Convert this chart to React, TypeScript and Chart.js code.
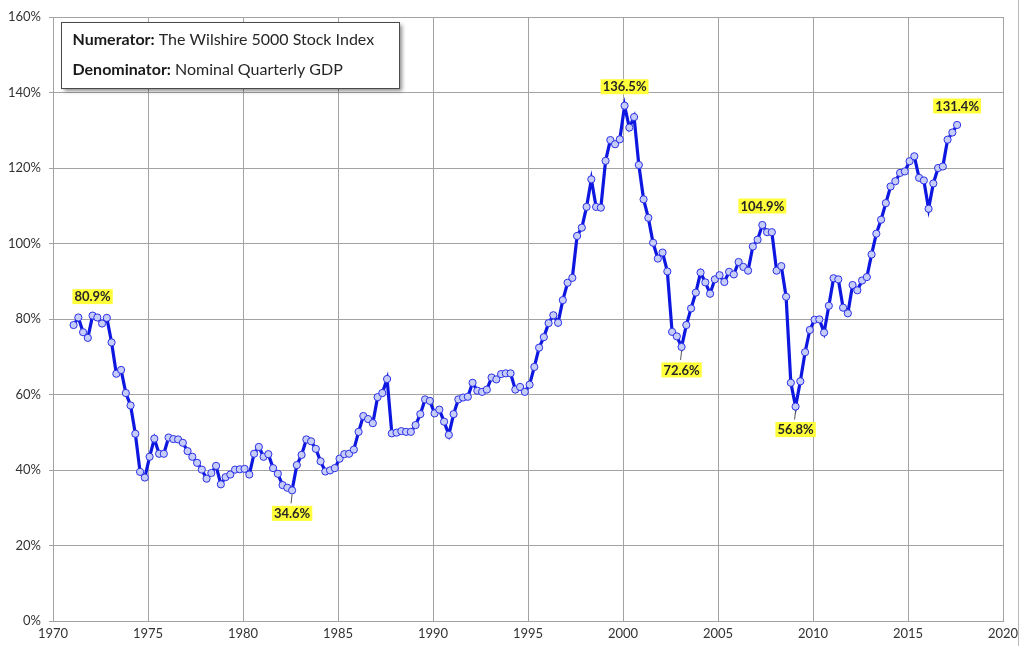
import React, { useEffect, useRef } from 'react';
import { Chart, registerables } from 'chart.js';

Chart.register(...registerables);

// Quarterly series: Wilshire 5000 / Nominal GDP (%), 1971 Q1 .. 2017 Q3
const START_YEAR = 1971;
const QUARTER_OFFSET = 1 / 12;
const ratioValues: number[] = [
  78.4, 80.4, 76.5, 75.0, 80.9, 80.4, 78.8, 80.3, 73.8, 65.5,
  66.5, 60.4, 57.1, 49.6, 39.5, 38.0, 43.5, 48.3, 44.3, 44.3,
  48.6, 48.2, 48.1, 47.2, 45.0, 43.5, 41.9, 40.1, 37.7, 39.2,
  41.1, 36.2, 38.1, 38.8, 40.1, 40.2, 40.3, 38.8, 44.3, 46.1,
  43.5, 44.2, 40.5, 39.0, 36.0, 35.3, 34.6, 41.3, 44.0, 48.1,
  47.6, 45.6, 42.3, 39.6, 39.9, 40.5, 43.0, 44.2, 44.3, 45.4,
  50.1, 54.3, 53.5, 52.4, 59.3, 60.4, 64.1, 49.7, 49.9, 50.3,
  50.1, 50.1, 51.9, 54.8, 58.7, 58.3, 55.0, 56.0, 52.8, 49.3,
  54.8, 58.7, 59.2, 59.4, 63.1, 61.0, 60.7, 61.3, 64.5, 64.0,
  65.4, 65.6, 65.6, 61.3, 62.0, 60.7, 62.6, 67.3, 72.4, 75.2,
  78.9, 81.0, 79.0, 85.0, 89.6, 90.9, 102.0, 104.2, 109.7, 117.0,
  109.7, 109.5, 121.9, 127.4, 126.3, 127.6, 136.5, 130.7, 133.5, 120.8,
  111.7, 106.8, 100.2, 96.0, 97.6, 92.6, 76.6, 75.4, 72.6, 78.4,
  82.8, 87.0, 92.3, 89.7, 86.7, 90.5, 91.6, 89.8, 92.5, 91.8,
  95.1, 93.8, 92.8, 99.2, 101.0, 104.9, 103.0, 103.0, 92.8, 94.0,
  85.9, 63.1, 56.8, 63.5, 71.2, 77.1, 79.8, 79.9, 76.4, 83.5,
  90.8, 90.5, 83.0, 81.5, 89.0, 87.6, 90.2, 91.1, 97.1, 102.6,
  106.3, 110.7, 115.1, 116.5, 118.7, 119.1, 121.8, 123.1, 117.4, 116.7,
  109.2, 115.9, 120.0, 120.4, 127.5, 129.4, 131.4,
];

const X_MIN = 1970;
const X_MAX = 2020;
const X_STEP = 5;
const Y_MIN = 0;
const Y_MAX = 160;
const Y_STEP = 20;

// Highlighted extremes (index into ratioValues, label placement)
const highlightIndices = [4, 46, 116, 128, 145, 152, 186];
const highlightPlacement = ['above', 'below', 'above', 'below', 'above', 'below', 'above'];

const noteLines = [
  { bold: 'Numerator:', rest: ' The Wilshire 5000 Stock Index' },
  { bold: 'Denominator:', rest: ' Nominal Quarterly GDP' },
];

const FONT = 'Lato, "Open Sans", "DejaVu Sans", sans-serif';

const annotationPlugin = {
  id: 'extremeLabels',
  afterDatasetsDraw(chart: any) {
    const ctx = chart.ctx;
    const meta = chart.getDatasetMeta(0);
    ctx.save();
    highlightIndices.forEach((idx, i) => {
      const pt = meta.data[idx];
      if (!pt) return;
      const x = pt.x;
      const y = pt.y;
      const text = ratioValues[idx].toFixed(1) + '%';
      ctx.font = 'bold 13px ' + FONT;
      const w = ctx.measureText(text).width;
      const below = highlightPlacement[i] === 'below';
      const cy = below ? y + 23 : y - 19;
      if (below) {
        ctx.strokeStyle = '#555';
        ctx.lineWidth = 1;
        ctx.beginPath();
        ctx.moveTo(x, y + 4);
        ctx.lineTo(x - 1, y + 13);
        ctx.stroke();
      }
      ctx.fillStyle = '#ffff3a';
      ctx.fillRect(x - w / 2 - 2, cy - 7.5, w + 4, 15);
      ctx.fillStyle = '#262626';
      ctx.textAlign = 'center';
      ctx.textBaseline = 'middle';
      ctx.fillText(text, x, cy + 0.5);
    });
    ctx.restore();
  },
};

const notePlugin = {
  id: 'noteBox',
  afterDraw(chart: any) {
    const ctx = chart.ctx;
    ctx.save();
    const bx = 61, by = 22, bw = 338, bh = 66;
    ctx.shadowColor = 'rgba(0,0,0,0.45)';
    ctx.shadowOffsetX = 3;
    ctx.shadowOffsetY = 3;
    ctx.shadowBlur = 4;
    ctx.fillStyle = '#ffffff';
    ctx.fillRect(bx, by, bw, bh);
    ctx.shadowColor = 'transparent';
    ctx.strokeStyle = '#4a4a4a';
    ctx.lineWidth = 1;
    ctx.strokeRect(bx + 0.5, by + 0.5, bw, bh);
    const baselines = [45, 75];
    ctx.textBaseline = 'alphabetic';
    ctx.textAlign = 'left';
    noteLines.forEach((ln, i) => {
      let x = 72.5;
      ctx.font = 'bold 16px ' + FONT;
      ctx.fillStyle = '#1a1a1a';
      ctx.fillText(ln.bold, x, baselines[i]);
      x += ctx.measureText(ln.bold).width;
      ctx.font = '16px ' + FONT;
      ctx.fillStyle = '#262626';
      ctx.fillText(ln.rest, x, baselines[i]);
    });
    // outer frame line on the right
    ctx.strokeStyle = '#b8b8b8';
    ctx.beginPath();
    ctx.moveTo(1018.5, 0);
    ctx.lineTo(1018.5, 646);
    ctx.stroke();
    ctx.restore();
  },
};

export default function App() {
  const canvasRef = useRef<HTMLCanvasElement | null>(null);

  useEffect(() => {
    document.body.style.margin = '0';
    const canvas = canvasRef.current;
    if (!canvas) return;
    const points = ratioValues.map((v, i) => ({ x: START_YEAR + QUARTER_OFFSET + i / 4, y: v }));
    const chart = new Chart(canvas, {
      type: 'line',
      data: {
        datasets: [
          {
            data: points,
            borderColor: '#0d17e0',
            borderWidth: 3.2,
            pointRadius: 3.6,
            pointBorderWidth: 1,
            pointBackgroundColor: '#c6cdf8',
            pointBorderColor: '#2b2fe6',
            tension: 0,
            fill: false,
          },
        ],
      },
      options: {
        animation: false,
        responsive: false,
        devicePixelRatio: 1,
        layout: { padding: { left: 0, right: 21, top: 17, bottom: 0 } },
        plugins: { legend: { display: false }, tooltip: { enabled: false } },
        scales: {
          x: {
            type: 'linear',
            min: X_MIN,
            max: X_MAX,
            afterFit: (s: any) => { s.height = 32; },
            ticks: {
              stepSize: X_STEP,
              autoSkip: false,
              padding: 5,
              color: '#333',
              font: { family: FONT, size: 13 },
              callback: (v: any) => String(v),
            },
            grid: { color: '#a3a3a3', lineWidth: 1, drawTicks: false },
            border: { color: '#a3a3a3' },
          },
          y: {
            min: Y_MIN,
            max: Y_MAX,
            afterFit: (s: any) => { s.width = 53; },
            ticks: {
              stepSize: Y_STEP,
              padding: 8,
              color: '#333',
              font: { family: FONT, size: 13 },
              callback: (v: any) => v + '%',
            },
            grid: { color: '#a3a3a3', lineWidth: 1, tickLength: 4 },
            border: { color: '#a3a3a3' },
          },
        },
      },
      plugins: [annotationPlugin, notePlugin],
    } as any);
    return () => chart.destroy();
  }, []);

  return (
    <div style={{ width: 1024, height: 653, position: 'relative', background: '#fff' }}>
      <canvas ref={canvasRef} width={1024} height={653} />
    </div>
  );
}
